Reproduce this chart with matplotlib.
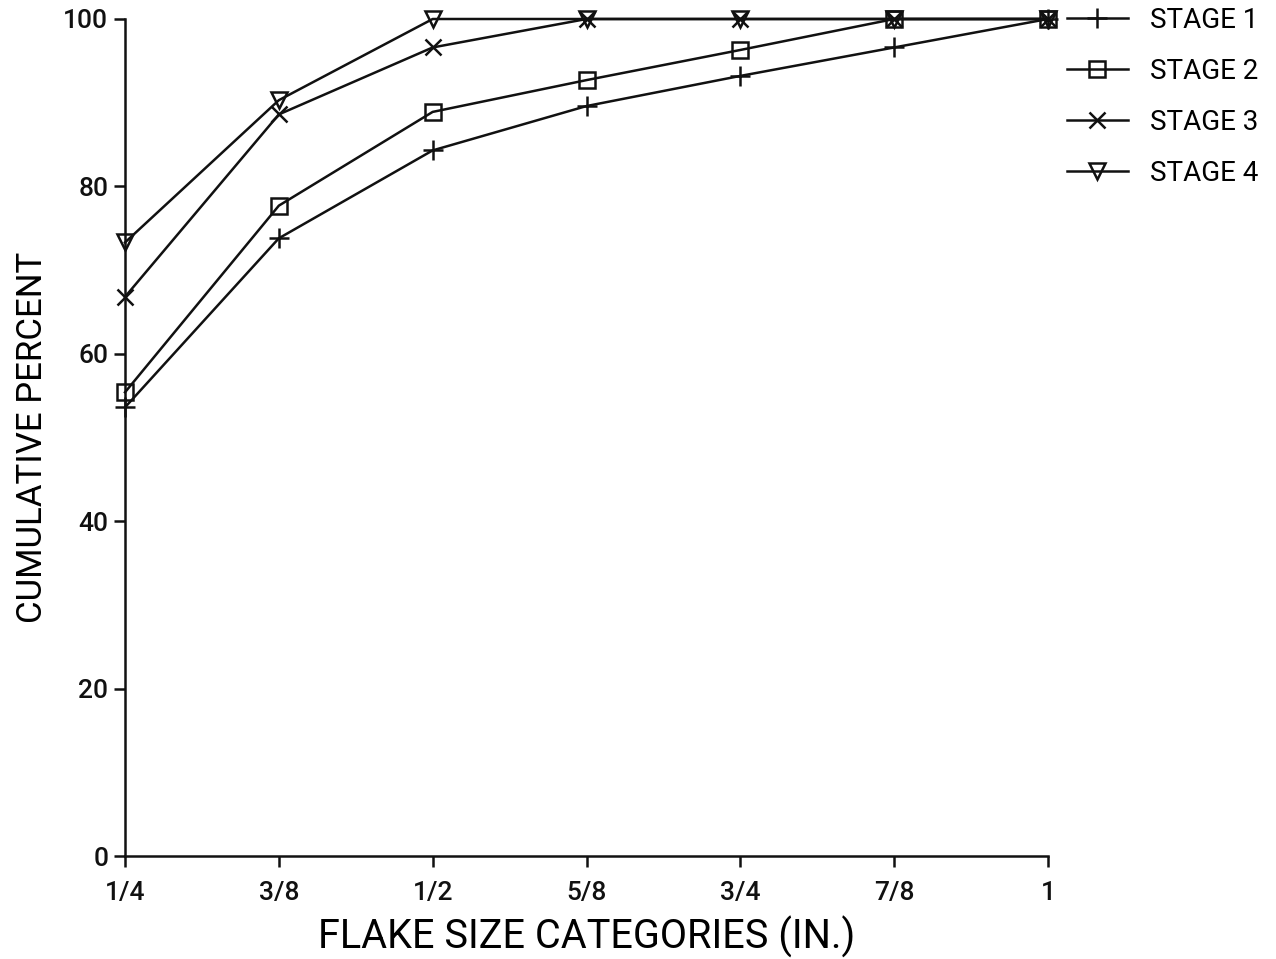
import matplotlib
matplotlib.use("Agg")
import matplotlib.pyplot as plt

categories = ["1/4", "3/8", "1/2", "5/8", "3/4", "7/8", "1"]
stage1 = [53.6, 73.8, 84.3, 89.6, 93.2, 96.6, 100.0]
stage2 = [55.4, 77.7, 88.9, 92.7, 96.3, 100.0, 100.0]
stage3 = [66.8, 88.6, 96.6, 100.0, 100.0, 100.0, 100.0]
stage4 = [73.3, 90.3, 100.0, 100.0, 100.0, 100.0, 100.0]
labels = ["STAGE 1", "STAGE 2", "STAGE 3", "STAGE 4"]
yticks = [0, 20, 40, 60, 80, 100]

plt.rcParams["font.family"] = ["Roboto", "DejaVu Sans"]

fig = plt.figure(figsize=(12.76, 9.59), dpi=100)
ax = fig.add_axes([125/1276, 1-856/959, (1048-125)/1276, (856-19)/959])

x = list(range(len(categories)))
col = "#111111"
styles = [
    dict(marker="+", ms=14, mew=1.8, mfc="none"),
    dict(marker="s", ms=11, mew=1.8, mfc="none"),
    dict(marker="x", ms=11, mew=1.8, mfc="none"),
    dict(marker="v", ms=11, mew=1.8, mfc="none"),
]
handles = []
for data, lab, st in zip([stage1, stage2, stage3, stage4], labels, styles):
    h, = ax.plot(x, data, color=col, lw=1.8, label=lab, clip_on=False, mec=col, **st)
    handles.append(h)

ax.set_xlim(0, 6)
ax.set_ylim(0, 100)
ax.set_xticks(x)
ax.set_xticklabels(categories, fontsize=19, fontweight="medium")
ax.set_yticks(yticks)
ax.set_yticklabels([str(v) for v in yticks], fontsize=19, fontweight="medium")
for s in ["top", "right"]:
    ax.spines[s].set_visible(False)
for s in ["left", "bottom"]:
    ax.spines[s].set_linewidth(1.8)
    ax.spines[s].set_color(col)
ax.tick_params(axis="both", direction="out", length=8, width=1.8, colors=col)
ax.tick_params(axis="x", pad=10)
ax.tick_params(axis="y", pad=4)
ax.set_xlabel("FLAKE SIZE CATEGORIES (IN.)", fontsize=28.5, labelpad=8)
ax.set_ylabel("CUMULATIVE PERCENT", fontsize=25, labelpad=10)

fig.legend(handles=handles, labels=labels, loc="upper left",
           bbox_to_anchor=(1050/1276, 1.01), frameon=False, fontsize=20,
           handlelength=2.2, labelspacing=0.86, handletextpad=0.8, borderaxespad=0.2)

fig.savefig("out.png", dpi=100, facecolor="white")
